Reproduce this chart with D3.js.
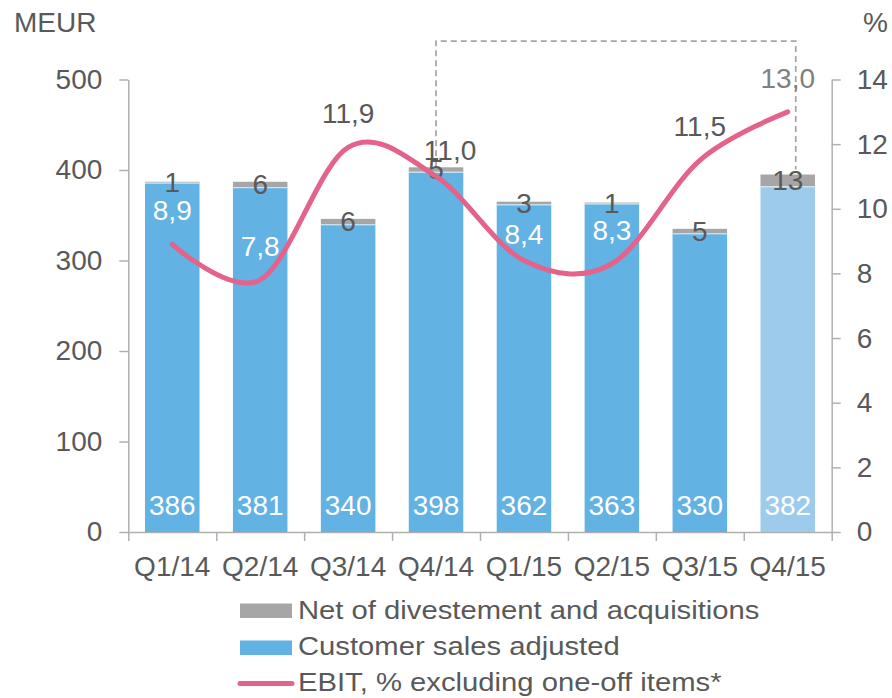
<!DOCTYPE html>
<html><head><meta charset="utf-8">
<script src="https://cdn.jsdelivr.net/npm/d3@7/dist/d3.min.js"></script>
<style>
html,body{margin:0;padding:0;background:#fff;}
svg text{font-family:"Liberation Sans",Arial,sans-serif;}
</style></head>
<body>
<svg id="chart" width="892" height="698"></svg>
<script>
const categories = ["Q1/14","Q2/14","Q3/14","Q4/14","Q1/15","Q2/15","Q3/15","Q4/15"];
const customerSales = [386,381,340,398,362,363,330,382];
const netDivAcq = [1,6,6,5,3,1,5,13];
const ebitPct = [8.9,7.8,11.9,11.0,8.4,8.3,11.5,13.0];
const ebitLabels = ["8,9","7,8","11,9","11,0","8,4","8,3","11,5","13,0"];
const leftTicks = [0,100,200,300,400,500];
const rightTicks = [0,2,4,6,8,10,12,14];
const legendLabels = ["Net of divestement and acquisitions","Customer sales adjusted","EBIT, % excluding one-off items*"];

const C = {blue:"#62B2E4", lightBlue:"#9DCBEB", gray:"#A6A6A6", pink:"#E4638A", text:"#595959", axis:"#B0B0B0"};
const FS = 28;

const svg = d3.select("#chart");
const L = 128.3, R = 831.7, T = 79.5, B = 532;

const x = d3.scaleBand().domain(categories).range([L, R]).paddingInner(0.38).paddingOuter(0.19);
const xb = d3.scaleLinear().domain([0, categories.length]).range([L, R]);
const y = d3.scaleLinear().domain([0, 500]).range([B, T]);
const y2 = d3.scaleLinear().domain([0, 14]).range([B, T]);
const cx = c => x(c) + x.bandwidth() / 2;

// Axes
const gL = svg.append("g").attr("transform", `translate(${L},0)`)
  .call(d3.axisLeft(y).tickValues(leftTicks).tickSize(9).tickSizeOuter(0).tickPadding(17));
const gR = svg.append("g").attr("transform", `translate(${R},0)`)
  .call(d3.axisRight(y2).tickValues(rightTicks).tickSize(9).tickSizeOuter(0).tickPadding(16));
const gB = svg.append("g").attr("transform", `translate(0,${B})`)
  .call(d3.axisBottom(xb).tickValues(d3.range(0, categories.length + 1)).tickSize(9).tickSizeOuter(0).tickFormat(""));
[gL, gR, gB].forEach(g => {
  g.selectAll("path.domain").attr("stroke", C.axis).attr("stroke-width", 1.5);
  g.selectAll(".tick line").attr("stroke", C.axis).attr("stroke-width", 1.5);
  g.selectAll(".tick text").attr("fill", C.text).attr("font-size", FS)
    .attr("font-family", "Liberation Sans, Arial, sans-serif");
});

// X category labels
svg.append("g").selectAll("text").data(categories).join("text")
  .attr("x", d => cx(d)).attr("y", 576).attr("text-anchor", "middle")
  .attr("font-size", FS).attr("fill", C.text).text(d => d);

// Axis titles
svg.append("text").attr("x", 14).attr("y", 32).attr("font-size", FS).attr("fill", C.text).text("MEUR");
svg.append("text").attr("x", 863).attr("y", 32).attr("font-size", FS).attr("fill", C.text).text("%");

// Dashed highlight box
const i4 = 3, i8 = 7;
const boxTop = 41;
const xLeftBox = cx(categories[i4]);
const xRightBox = cx(categories[i8]) + 8;
svg.append("path")
  .attr("d", `M${xLeftBox},${y(customerSales[i4] + netDivAcq[i4]) - 1}V${boxTop}H${xRightBox}V${y(customerSales[i8] + netDivAcq[i8]) - 5}`)
  .attr("fill", "none").attr("stroke", C.gray).attr("stroke-width", 1.75).attr("stroke-dasharray", "6,4");

// Bars
const bars = svg.append("g");
categories.forEach((c, i) => {
  const last = i === categories.length - 1;
  bars.append("rect").attr("x", x(c)).attr("width", x.bandwidth())
    .attr("y", y(customerSales[i])).attr("height", y(0) - y(customerSales[i]))
    .attr("fill", last ? C.lightBlue : C.blue);
  bars.append("rect").attr("x", x(c)).attr("width", x.bandwidth())
    .attr("y", y(customerSales[i] + netDivAcq[i])).attr("height", y(customerSales[i]) - y(customerSales[i] + netDivAcq[i]))
    .attr("fill", C.gray);
  bars.append("line").attr("x1", x(c)).attr("x2", x(c) + x.bandwidth())
    .attr("y1", y(customerSales[i]) + 0.5).attr("y2", y(customerSales[i]) + 0.5)
    .attr("stroke", "#DDEEF8").attr("stroke-width", 1);
});

// Bar labels
svg.append("g").selectAll("text").data(categories).join("text")
  .attr("x", d => cx(d)).attr("y", y(0) - 27).attr("dy", "0.35em").attr("text-anchor", "middle")
  .attr("font-size", FS).attr("fill", "#fff").text((d, i) => customerSales[i]);
svg.append("g").selectAll("text").data(categories).join("text")
  .attr("x", d => cx(d)).attr("y", (d, i) => y(customerSales[i] + netDivAcq[i] / 2)).attr("dy", "0.35em")
  .attr("text-anchor", "middle").attr("font-size", FS).attr("fill", C.text).text((d, i) => netDivAcq[i]);

// EBIT line
const line = d3.line().x((d, i) => cx(categories[i])).y(d => y2(d)).curve(d3.curveCardinal.tension(0));
svg.append("path").datum(ebitPct).attr("d", line).attr("fill", "none")
  .attr("stroke", C.pink).attr("stroke-width", 5).attr("stroke-linecap", "round").attr("stroke-linejoin", "round");

// EBIT labels
const labelFill = i => [2, 3, 6].includes(i) ? C.text : (i === 7 ? "#808080" : "#fff");
const nudge = {3: {dx: 14, off: 26.5}, 4: {dx: 0, off: 26}};
svg.append("g").selectAll("text").data(ebitPct).join("text")
  .attr("x", (d, i) => cx(categories[i]) + (nudge[i] ? nudge[i].dx : 0))
  .attr("y", (d, i) => y2(d) - (nudge[i] ? nudge[i].off : 34)).attr("dy", "0.35em")
  .attr("text-anchor", "middle").attr("font-size", FS).attr("fill", (d, i) => labelFill(i))
  .text((d, i) => ebitLabels[i]);

// Legend
const lg = svg.append("g");
const lx0 = 240, lx1 = 292, ltx = 298;
const rowBase = [618.5, 655, 691];
lg.append("rect").attr("x", lx0).attr("y", 603.5).attr("width", lx1 - lx0).attr("height", 14.5).attr("fill", C.gray);
lg.append("rect").attr("x", lx0).attr("y", 640.5).attr("width", lx1 - lx0).attr("height", 14.5).attr("fill", C.blue);
lg.append("line").attr("x1", lx0).attr("x2", lx1).attr("y1", 683.5).attr("y2", 683.5)
  .attr("stroke", C.pink).attr("stroke-width", 5).attr("stroke-linecap", "round");
lg.selectAll("text.lt").data(legendLabels).join("text").attr("class", "lt")
  .attr("transform", (d, i) => `translate(${ltx},${rowBase[i]}) scale(1.125,1)`)
  .attr("font-size", 26).attr("fill", C.text).text(d => d);
</script>
</body></html>
